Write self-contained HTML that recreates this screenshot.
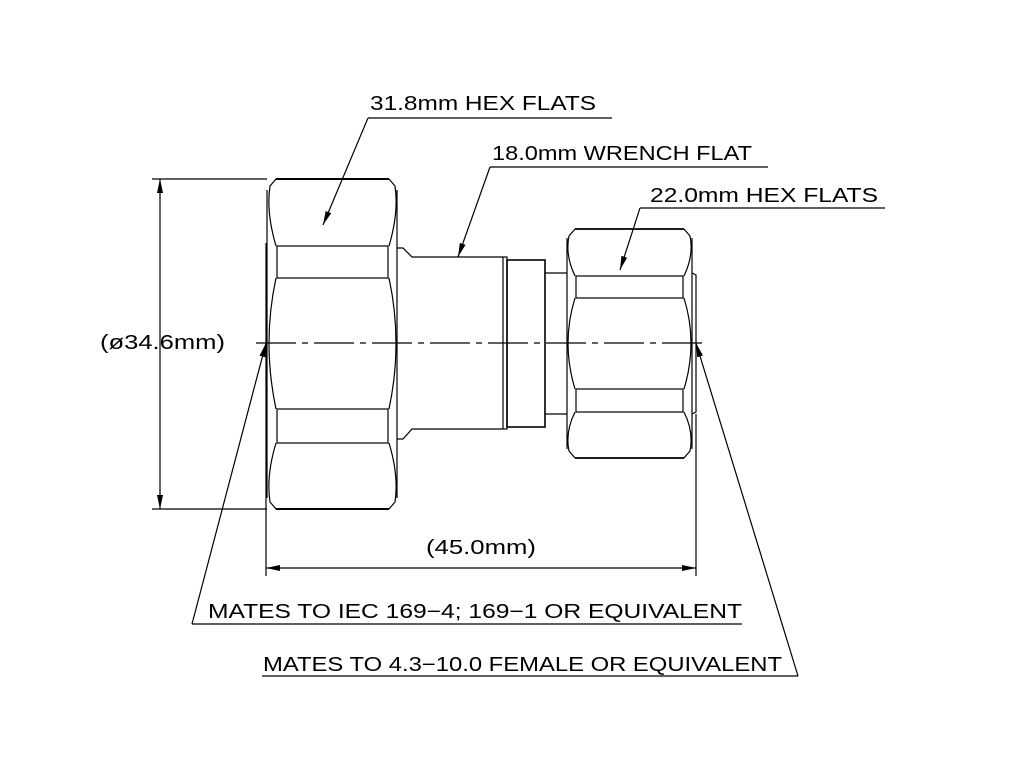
<!DOCTYPE html>
<html><head><style>html,body{margin:0;padding:0;background:#fff}svg{display:block}</style></head>
<body>
<svg width="1024" height="768" viewBox="0 0 1024 768" xmlns="http://www.w3.org/2000/svg">
<defs><marker id="a" markerWidth="14" markerHeight="6" refX="14" refY="3" orient="auto-start-reverse" markerUnits="userSpaceOnUse"><path d="M0,0 L14,3 L0,6 Z" fill="#000"/></marker></defs>
<g fill="none" stroke="#000" stroke-width="1.2">
<!-- big hex -->
<path d="M276,179 L389,179 M276,509 L389,509" stroke-width="2"/>
<path d="M276,179 L270,186 Q266,212 276,246 M389,179 L395,186 Q399,212 389,246"/>
<path d="M276,278 Q262,343 276,409 M389,278 Q403,343 389,409"/>
<path d="M276,443 Q266,476 270,502 L276,509 M389,443 Q399,476 395,502 L389,509"/>
<path d="M267,190 L267,498 M397,190 L397,498"/>
<rect x="277" y="246" width="111" height="32"/>
<rect x="277" y="409" width="111" height="34"/>
<path d="M266,243 L266,444"/>
<!-- body -->
<path d="M397,248 L403,248 L412,257 L503,257 M397,439 L403,439 L412,429 L503,429"/>
<rect x="503" y="257" width="4" height="172"/>
<rect x="507" y="260" width="38" height="167" stroke-width="1.6"/>
<path d="M545,273 L567,273 M545,414 L567,414"/>
<!-- small hex -->
<path d="M575,229 L684,229 M575,458 L684,458" stroke-width="1.8"/>
<path d="M575,229 L569,236 Q565,255 575,276 M684,229 L690,236 Q694,255 684,276"/>
<path d="M575,298 Q561,343 575,389 M684,298 Q698,343 684,389"/>
<path d="M575,412 Q565,432 569,451 L575,458 M684,412 Q694,432 690,451 L684,458"/>
<path d="M567,238 L567,449 M692,238 L692,449"/>
<rect x="576" y="276" width="107" height="22"/>
<rect x="576" y="389" width="107" height="23"/>
<path d="M692,273 L696,275 L696,412 L692,414"/>
<!-- centerline -->
<line x1="256" y1="343" x2="708" y2="343" stroke-dasharray="40,6,6,6"/>
<!-- dims -->
<path d="M152,179 L267,179 M152,509 L267,509"/>
<line x1="160" y1="179" x2="160" y2="509" marker-start="url(#a)" marker-end="url(#a)"/>
<path d="M266,444 L266,576 M696,414 L696,576"/>
<line x1="266" y1="568" x2="696" y2="568" marker-start="url(#a)" marker-end="url(#a)"/>
<!-- leaders -->
<path d="M612,118 L368,118"/><line x1="368" y1="118" x2="323" y2="225" marker-end="url(#a)"/>
<path d="M768,167 L490,167"/><line x1="490" y1="167" x2="458" y2="257" marker-end="url(#a)"/>
<path d="M885,208 L640,208"/><line x1="640" y1="208" x2="620" y2="270" marker-end="url(#a)"/>
<path d="M742,624 L192,624"/><line x1="192" y1="624" x2="266" y2="343" marker-end="url(#a)"/>
<path d="M262,676 L798,676"/><line x1="798" y1="676" x2="696" y2="343" marker-end="url(#a)"/>
</g>
<g font-family="Liberation Sans, sans-serif" font-size="20" fill="#000">
<text x="370" y="110" textLength="226" lengthAdjust="spacingAndGlyphs">31.8mm HEX FLATS</text>
<text x="492" y="160" textLength="260" lengthAdjust="spacingAndGlyphs">18.0mm WRENCH FLAT</text>
<text x="650" y="202" textLength="228" lengthAdjust="spacingAndGlyphs">22.0mm HEX FLATS</text>
<text x="100" y="349" textLength="125" lengthAdjust="spacingAndGlyphs">(ø34.6mm)</text>
<text x="426" y="554" textLength="110" lengthAdjust="spacingAndGlyphs">(45.0mm)</text>
<text x="208" y="618" textLength="534" lengthAdjust="spacingAndGlyphs">MATES TO IEC 169−4; 169−1 OR EQUIVALENT</text>
<text x="263" y="671" textLength="519" lengthAdjust="spacingAndGlyphs">MATES TO 4.3−10.0 FEMALE OR EQUIVALENT</text>
</g>
</svg>
</body></html>
